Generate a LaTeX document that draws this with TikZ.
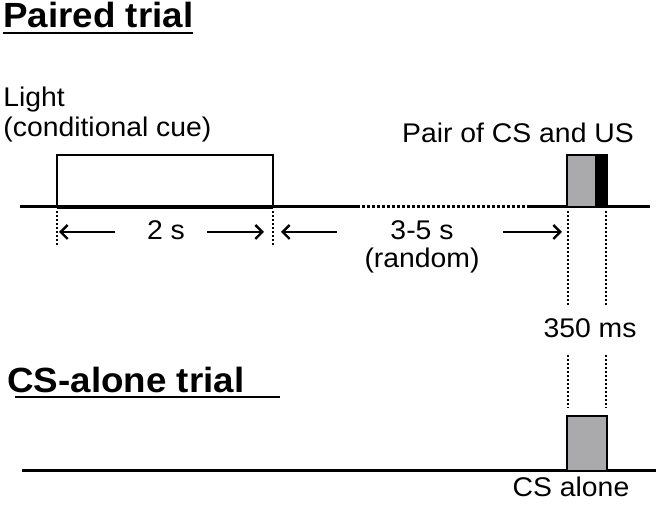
\documentclass[tikz,border=0pt]{standalone}
\usepackage{fontspec}
\setmainfont{Liberation Sans}[FakeStretch=1.05]
\usepackage{xcolor}
\usepackage{tikz}
\usetikzlibrary{arrows.meta}

\definecolor{csgray}{RGB}{170,170,172}

\begin{document}
\begin{tikzpicture}[
    x=0.5pt, y=-0.5pt,
    title/.style={inner sep=0pt, anchor=base west, font=\fontsize{17.5}{20}\selectfont\bfseries},
    lbl/.style={inner sep=0pt, anchor=base, font=\fontsize{13.5}{16}\selectfont},
    timeline/.style={line width=1.5pt},
    uline/.style={line width=1pt},
    mark line/.style={line width=1pt, dash pattern=on 1pt off 1pt},
    arrow/.style={-{Straight Barb[length=3.5pt, width=7pt, line width=1.2pt]}, line width=1.2pt}
]
    \useasboundingbox (0,0) rectangle (659,512);

    % Titles
    \node[title] (paired) at (3,28) {Paired trial};
    \draw[uline] (3,33) -- (193,33);
    \node[title] (alone) at (7,393) {CS-alone trial};
    \draw[uline] (15,397) -- (280,397);

    % Labels
    \node[lbl, anchor=base west] (light) at (3,107) {Light};
    \node[lbl, anchor=base west] (cue) at (3,137) {(conditional cue)};
    \node[lbl] (pair) at (518,143) {Pair of CS and US};
    \node[lbl] (twos) at (166,240) {2 s};
    \node[lbl] (iti) at (422,240) {3-5 s};
    \node[lbl] (rand) at (422,268) {(random)};
    \node[lbl] (ms) at (590,338) {350 ms};
    \node[lbl] (csonly) at (571,497) {CS alone};

    % Paired trial
    \draw[timeline] (20,207) -- (357,207);
    \draw[timeline, dash pattern=on 1.5pt off 1pt] (357,207) -- (527,207);
    \draw[timeline] (527,207) -- (650,207);
    \draw[line width=1.2pt] (57,207) rectangle (273,155);
    \draw[line width=2.4pt] (57,207) -- (273,207);
    \fill[csgray] (567,155) rectangle (595,207);
    \fill[black] (595,155) rectangle (607,207);
    \draw[line width=1.2pt] (567,207) rectangle (607,155);

    % CS-alone trial
    \draw[timeline] (22,471) -- (656,471);
    \draw[line width=1.2pt, fill=csgray] (567,471) rectangle (607,416);

    % Marks
    \coordinate (cueA) at (57,211);
    \coordinate (cueB) at (57,245);
    \coordinate (cueC) at (273,211);
    \coordinate (cueD) at (273,245);
    \draw[mark line] (cueA) -- (cueB);
    \draw[mark line] (cueC) -- (cueD);
    \draw[mark line] (568,211) -- (568,307);
    \draw[mark line] (606,211) -- (606,307);
    \draw[mark line] (568,355) -- (568,408);
    \draw[mark line] (606,355) -- (606,408);

    % Arrows
    \coordinate (a1) at (115,232);
    \coordinate (a2) at (59,232);
    \coordinate (a3) at (207,232);
    \coordinate (a4) at (264,232);
    \coordinate (a5) at (337,232);
    \coordinate (a6) at (281,232);
    \coordinate (a7) at (503,232);
    \coordinate (a8) at (562,232);
    \draw[arrow] (a1) -- (a2);
    \draw[arrow] (a3) -- (a4);
    \draw[arrow] (a5) -- (a6);
    \draw[arrow] (a7) -- (a8);
\end{tikzpicture}
\end{document}
